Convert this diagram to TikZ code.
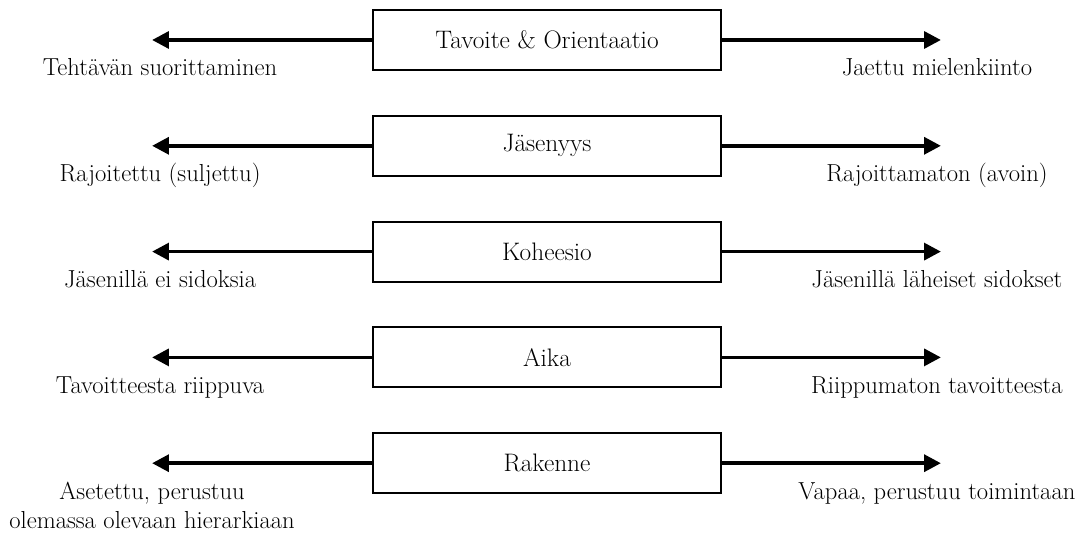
\documentclass[tikz,border=0pt]{standalone}
\usepackage{tikz}
\usetikzlibrary{positioning,arrows.meta}
\tikzstyle{dim}=[draw, line width=1.3pt, minimum width=8.7cm, minimum height=1.5cm, font=\fontsize{18}{21}\selectfont]
\tikzstyle{pole}=[font=\fontsize{17.5}{20.6}\selectfont, align=center, anchor=base, inner sep=0pt]
\tikzstyle{arr}=[line width=2.6pt, -{Triangle[length=12pt,width=12pt]}]

\begin{document}
\begin{tikzpicture}[node distance=2.645cm,auto]
	\useasboundingbox (0,0) rectangle (27.125,-13.375);
	\node[dim] (tavoite) at (13.675,-1) {Tavoite \& Orientaatio};
	\node[dim, below of=tavoite] (jasenyys) {Jäsenyys};
	\node[dim, below of=jasenyys] (koheesio) {Koheesio};
	\node[dim, below of=koheesio] (aika) {Aika};
	\node[dim, below of=aika] (rakenne) {Rakenne};
	\coordinate[left=5.5cm of tavoite.west] (tavL);
	\coordinate[right=5.475cm of tavoite.east] (tavR);
	\coordinate[left=5.5cm of jasenyys.west] (jasL);
	\coordinate[right=5.475cm of jasenyys.east] (jasR);
	\coordinate[left=5.5cm of koheesio.west] (kohL);
	\coordinate[right=5.475cm of koheesio.east] (kohR);
	\coordinate[left=5.5cm of aika.west] (aikL);
	\coordinate[right=5.475cm of aika.east] (aikR);
	\coordinate[left=5.5cm of rakenne.west] (rakL);
	\coordinate[right=5.475cm of rakenne.east] (rakR);
	\node[pole] (tavLtxt) at ([xshift=2mm,yshift=-9mm]tavL) {Tehtävän suorittaminen};
	\node[pole] (tavRtxt) at ([xshift=-1mm,yshift=-9mm]tavR) {Jaettu mielenkiinto};
	\node[pole] (jasLtxt) at ([xshift=2mm,yshift=-9mm]jasL) {Rajoitettu (suljettu)};
	\node[pole] (jasRtxt) at ([xshift=-1mm,yshift=-9mm]jasR) {Rajoittamaton (avoin)};
	\node[pole] (kohLtxt) at ([xshift=2mm,yshift=-9mm]kohL) {Jäsenillä ei sidoksia};
	\node[pole] (kohRtxt) at ([xshift=-1mm,yshift=-9mm]kohR) {Jäsenillä läheiset sidokset};
	\node[pole] (aikLtxt) at ([xshift=2mm,yshift=-9mm]aikL) {Tavoitteesta riippuva};
	\node[pole] (aikRtxt) at ([xshift=-1mm,yshift=-9mm]aikR) {Riippumaton tavoitteesta};
	\node[pole] (rakLtxt) at ([xshift=0mm,yshift=-16.3mm]rakL) {Asetettu, perustuu\\olemassa olevaan hierarkiaan};
	\node[pole] (rakRtxt) at ([xshift=-1mm,yshift=-9mm]rakR) {Vapaa, perustuu toimintaan};
	\path[arr] (tavoite) edge (tavL);
	\path[arr] (tavoite) edge (tavR);
	\path[arr] (jasenyys) edge (jasL);
	\path[arr] (jasenyys) edge (jasR);
	\path[arr] (koheesio) edge (kohL);
	\path[arr] (koheesio) edge (kohR);
	\path[arr] (aika) edge (aikL);
	\path[arr] (aika) edge (aikR);
	\path[arr] (rakenne) edge (rakL);
	\path[arr] (rakenne) edge (rakR);
\end{tikzpicture}
\end{document}
